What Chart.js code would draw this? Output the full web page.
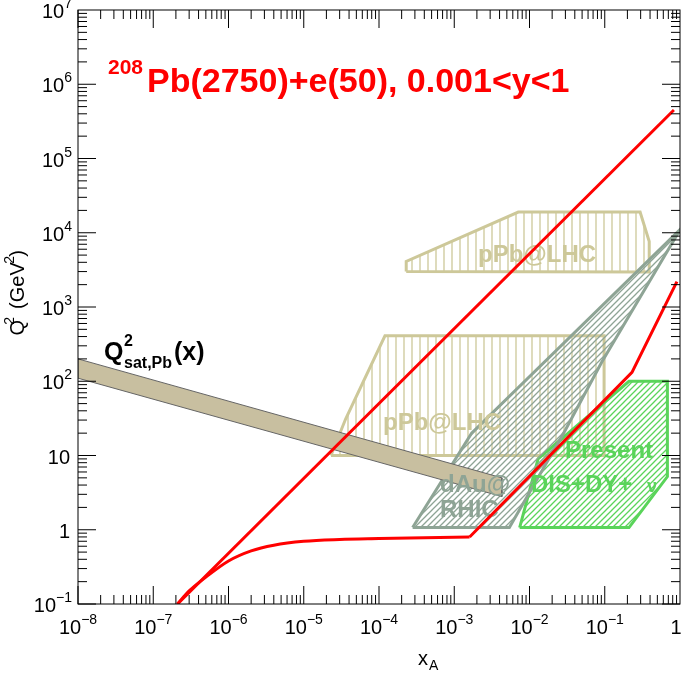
<!DOCTYPE html>
<html>
<head>
<meta charset="utf-8">
<script src="https://cdn.jsdelivr.net/npm/chart.js@4"></script>
<style>
  body { margin: 0; background: #fff; }
  #wrap { width: 685px; height: 673px; }
</style>
</head>
<body>
<div id="wrap"><canvas id="c" width="685" height="673"></canvas></div>
<script>
// dữ liệu
var redLineX = [2.1e-7, 0.83];
var redLineY = [0.1, 4.5e5];
// phần cong (mượt) và phần gãy khúc của đường đỏ thứ hai
var redCurveX = [2.1e-7, 3e-7, 5e-7, 1e-6, 2e-6, 4e-6, 1e-5, 3e-5, 1e-4, 1.6e-3];
var redCurveY = [0.1, 0.15, 0.23, 0.38, 0.52, 0.62, 0.7, 0.74, 0.76, 0.8];
var redKinkX = [1.6e-3, 0.23, 0.91];
var redKinkY = [0.8, 132, 2200];
var qsatTopX = [1e-8, 4.3e-3];
var qsatTopY = [200, 5];
var qsatBotY = [110, 2.8];
var pPbHighX = [2.3e-4, 2.3e-4, 7.1e-3, 0.295, 0.39, 0.39];
var pPbHighY = [3000, 4100, 19000, 19000, 7600, 2950];
var pPbLowX = [2.3e-5, 3.6e-5, 1.2e-4, 0.098, 0.098];
var pPbLowY = [10, 31, 410, 410, 10];
var dAuX = [2.8e-4, 1.7e-3, 1.0, 0.091, 0.03, 5.4e-3];
var dAuY = [1.07, 20, 11000, 180, 22, 1.07];
var presentX = [7.4e-3, 0.013, 0.21, 0.68, 0.68, 0.21];
var presentY = [1.07, 9, 100, 100, 5.2, 1.07];
var xTicks = [-8, -7, -6, -5, -4, -3, -2, -1, 0];
var yTicks = [-1, 0, 1, 2, 3, 4, 5, 6, 7];

function pts(xs, ys) {
    return xs.map(function (x, i) { return { x: x, y: ys[i] }; });
}
function closed(xs, ys) {
    var p = pts(xs, ys);
    p.push(p[0]);
    return p;
}
function hatch(color, kind, step) {
    var cv = document.createElement('canvas');
    cv.width = step; cv.height = step;
    var g = cv.getContext('2d');
    g.strokeStyle = color; g.lineWidth = 1.3;
    g.beginPath();
    if (kind === 'v') {
        g.moveTo(step / 2, 0); g.lineTo(step / 2, step);
    } else {
        g.moveTo(0, step); g.lineTo(step, 0);
        g.moveTo(-step, step); g.lineTo(step, -step);
        g.moveTo(0, 2 * step); g.lineTo(2 * step, 0);
    }
    g.stroke();
    return g.createPattern(cv, 'repeat');
}

var khaki = '#cdc899';
var grayG = '#8ea495';
var green = '#5ad45a';
var qsatBand = pts(qsatTopX, qsatTopY).concat(pts(qsatTopX.slice().reverse(), qsatBotY.slice().reverse()));
qsatBand.push(qsatBand[0]);

function area(label, data, border, fill, width, order) {
    return { label: label, data: data, showLine: true, fill: 'shape', borderColor: border,
        backgroundColor: fill, borderWidth: width, pointRadius: 0, tension: 0, order: order };
}
function redLine(label, data, mode, order) {
    return { label: label, data: data, showLine: true, borderColor: '#f00', borderWidth: 3,
        pointRadius: 0, cubicInterpolationMode: mode, order: order };
}

// nhãn của các vùng: vẽ ngay sau dải Q2sat, trước đường đỏ
var regionLabels = {
    id: 'regionLabels',
    afterDatasetDraw: function (chart, args) {
        if (args.index !== 3) return;
        var ctx = chart.ctx;
        ctx.save();
        ctx.textAlign = 'left';
        ctx.font = 'bold 24px "Liberation Sans"';
        ctx.fillStyle = khaki;
        ctx.fillText('pPb@LHC', 478, 262);
        ctx.fillText('pPb@LHC', 383, 430);
        ctx.fillStyle = grayG;
        ctx.fillText('dAu@', 440, 492);
        ctx.fillText('RHIC', 440, 517);
        ctx.fillStyle = green;
        ctx.fillText('Present', 565, 458);
        ctx.fillText('DIS+DY+', 531, 492);
        ctx.font = 'bold 18px "Liberation Sans"';
        ctx.fillText('\u03bd', 647, 492);
        ctx.restore();
    }
};

// vẽ khung, vạch chia, nhãn
var decor = {
    id: 'decor',
    afterDraw: function (chart) {
        var ctx = chart.ctx, a = chart.chartArea;
        var xs = chart.scales.x, ys = chart.scales.y;
        ctx.save();
        ctx.strokeStyle = '#000'; ctx.lineWidth = 1;
        ctx.strokeRect(a.left, a.top, a.right - a.left, a.bottom - a.top);
        ctx.beginPath();
        for (var d = -8; d < 0; d++) {
            for (var m = 1; m < 10; m++) {
                var px = xs.getPixelForValue(m * Math.pow(10, d));
                var L = m === 1 ? 18 : 9;
                ctx.moveTo(px, a.bottom); ctx.lineTo(px, a.bottom - L);
                ctx.moveTo(px, a.top); ctx.lineTo(px, a.top + L);
            }
        }
        for (var d2 = -1; d2 < 7; d2++) {
            for (var m2 = 1; m2 < 10; m2++) {
                var py = ys.getPixelForValue(m2 * Math.pow(10, d2));
                var L2 = m2 === 1 ? 18 : 9;
                ctx.moveTo(a.left, py); ctx.lineTo(a.left + L2, py);
                ctx.moveTo(a.right, py); ctx.lineTo(a.right - L2, py);
            }
        }
        ctx.stroke();

        ctx.fillStyle = '#000';
        function pow(x, y, e, align) {
            ctx.font = '20px "Liberation Sans"';
            var w1 = ctx.measureText('10').width;
            ctx.font = '14px "Liberation Sans"';
            var w2 = ctx.measureText(e).width;
            var x0 = align === 'right' ? x - w1 - w2 : x - (w1 + w2) / 2;
            ctx.textAlign = 'left'; ctx.textBaseline = 'alphabetic';
            ctx.font = '20px "Liberation Sans"';
            ctx.fillText('10', x0, y);
            ctx.font = '14px "Liberation Sans"';
            ctx.fillText(e, x0 + w1, y - 10);
        }
        xTicks.forEach(function (d) {
            var px = xs.getPixelForValue(Math.pow(10, d));
            if (d === 0) {
                ctx.font = '20px "Liberation Sans"'; ctx.textAlign = 'center';
                ctx.fillText('1', Math.min(px, 676), a.bottom + 30);
            } else {
                pow(px, a.bottom + 30, String(d).replace('-', '\u2212'), 'center');
            }
        });
        yTicks.forEach(function (d) {
            var py = ys.getPixelForValue(Math.pow(10, d)) + 8;
            if (d === 0 || d === 1) {
                ctx.font = '20px "Liberation Sans"'; ctx.textAlign = 'right';
                ctx.fillText(d === 0 ? '1' : '10', a.left - 8, py);
            } else {
                pow(a.left - 6, py, String(d).replace('-', '\u2212'), 'right');
            }
        });
        // tiêu đề trục
        ctx.font = '20px "Liberation Sans"'; ctx.textAlign = 'left';
        ctx.fillText('x', 418, 665);
        ctx.font = '14px "Liberation Sans"';
        ctx.fillText('A', 429, 670);
        ctx.save();
        ctx.translate(24, 250); ctx.rotate(-Math.PI / 2);
        ctx.font = '20px "Liberation Sans"'; ctx.textAlign = 'right';
        ctx.fillText('Q  (GeV )', 0, 0);
        ctx.font = '14px "Liberation Sans"';
        ctx.fillText('2', -67, -10);
        ctx.fillText('2', -6, -10);
        ctx.restore();

        // tiêu đề đỏ
        ctx.textAlign = 'left';
        ctx.fillStyle = '#f00';
        ctx.font = 'bold 21px "Liberation Sans"';
        ctx.fillText('208', 108, 74);
        ctx.font = 'bold 34px "Liberation Sans"';
        ctx.fillText('Pb(2750)+e(50), 0.001<y<1', 147, 92);

        // Q2 sat
        ctx.fillStyle = '#000';
        ctx.font = 'bold 25px "Liberation Sans"';
        ctx.fillText('Q', 104, 360);
        ctx.font = 'bold 16px "Liberation Sans"';
        ctx.fillText('2', 124, 346);
        ctx.fillText('sat,Pb', 124, 368);
        ctx.font = 'bold 25px "Liberation Sans"';
        ctx.fillText('(x)', 174, 360);
        ctx.restore();
    }
};

new Chart(document.getElementById('c'), {
    type: 'scatter',
    data: {
        datasets: [
            redLine('line', pts(redLineX, redLineY), 'default', 0),
            redLine('curve', pts(redCurveX, redCurveY), 'monotone', 1),
            redLine('kink', pts(redKinkX, redKinkY), 'default', 1),
            area('qsat', qsatBand, '#666', '#c8bfa0', 1, 2),
            area('dAu', closed(dAuX, dAuY), grayG, hatch(grayG, 'd', 6), 3, 3),
            area('present', closed(presentX, presentY), green, hatch(green, 'd', 6), 3, 4),
            area('pPbLow', closed(pPbLowX, pPbLowY), khaki, hatch(khaki, 'v', 8), 3, 5),
            area('pPbHigh', closed(pPbHighX, pPbHighY), khaki, hatch(khaki, 'v', 8), 3, 6)
        ]
    },
    options: {
        responsive: false,
        animation: false,
        layout: { padding: { left: 78, right: 5, top: 10, bottom: 69 } },
        plugins: { legend: { display: false }, tooltip: { enabled: false } },
        scales: {
            x: { type: 'logarithmic', min: 1e-8, max: 1, display: false },
            y: { type: 'logarithmic', min: 0.1, max: 1e7, display: false }
        }
    },
    plugins: [regionLabels, decor]
});
</script>
</body>
</html>
